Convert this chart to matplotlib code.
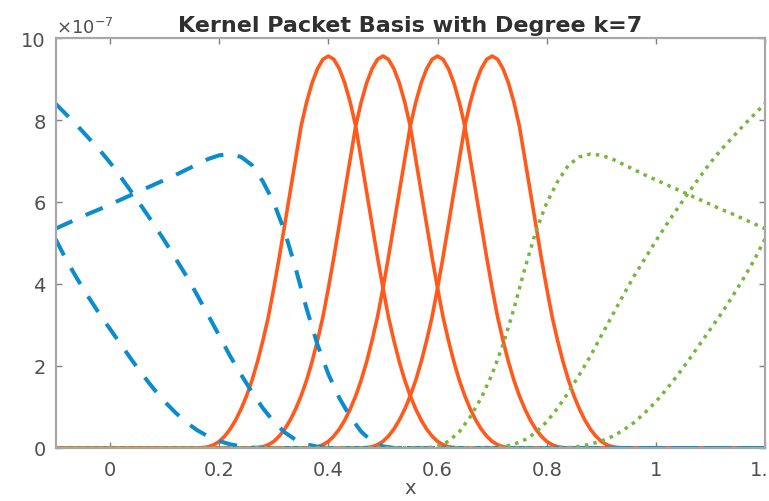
import matplotlib
matplotlib.use("Agg")
import matplotlib.pyplot as plt
import numpy as np

# values are in units of 1e-7

# kernel packet profile (orange), offsets from the centre
kp_offsets = [-0.24, -0.23, -0.22, -0.21, -0.20, -0.19, -0.18, -0.17, -0.16, -0.15,
              -0.14, -0.13, -0.12, -0.11, -0.10, -0.09, -0.08, -0.07, -0.06, -0.05,
              -0.04, -0.03, -0.02, -0.01, 0.00, 0.01, 0.02, 0.03, 0.04, 0.05,
              0.06, 0.07, 0.08, 0.09, 0.10, 0.11, 0.12, 0.13, 0.14, 0.15,
              0.16, 0.17, 0.18, 0.19, 0.20, 0.21, 0.22, 0.23, 0.24]
kp_values = [0.00, 0.01, 0.03, 0.08, 0.16, 0.29, 0.46, 0.68, 0.95, 1.27,
             1.65, 2.10, 2.62, 3.20, 3.90, 4.65, 5.45, 6.25, 7.05, 7.85,
             8.43, 8.90, 9.25, 9.48, 9.56, 9.48, 9.25, 8.90, 8.43, 7.85,
             7.05, 6.25, 5.45, 4.65, 3.90, 3.20, 2.62, 2.10, 1.65, 1.27,
             0.95, 0.68, 0.46, 0.29, 0.16, 0.08, 0.03, 0.01, 0.00]
kp_centers = [0.4, 0.5, 0.6, 0.7]

# left boundary functions (blue, dashed)
left_a_x = [-0.10, -0.08, -0.06, -0.04, -0.02, 0.00, 0.02, 0.04, 0.06, 0.08, 0.10,
            0.12, 0.14, 0.16, 0.18, 0.20, 0.22, 0.24, 0.26, 0.28, 1.20]
left_a_y = [5.10, 4.58, 4.12, 3.69, 3.28, 2.90, 2.52, 2.14, 1.78, 1.44, 1.13,
            0.86, 0.62, 0.43, 0.28, 0.17, 0.09, 0.04, 0.01, 0.00, 0.00]

left_b_x = [-0.10, -0.08, -0.06, -0.04, -0.02, 0.00, 0.02, 0.04, 0.06, 0.08, 0.10,
            0.12, 0.14, 0.16, 0.18, 0.20, 0.22, 0.24, 0.26, 0.28, 0.30, 0.32,
            0.34, 0.36, 0.38, 0.40, 1.20]
left_b_y = [8.40, 8.13, 7.86, 7.57, 7.28, 6.96, 6.60, 6.23, 5.85, 5.46, 5.05,
            4.62, 4.19, 3.72, 3.23, 2.74, 2.24, 1.79, 1.36, 0.97, 0.64, 0.38,
            0.20, 0.09, 0.03, 0.00, 0.00]

left_c_x = [-0.10, -0.08, -0.06, -0.04, -0.02, 0.00, 0.02, 0.04, 0.06, 0.08, 0.10,
            0.12, 0.14, 0.16, 0.18, 0.20, 0.22, 0.24, 0.26, 0.28, 0.30, 0.32,
            0.34, 0.36, 0.38, 0.40, 0.42, 0.44, 0.46, 0.48, 0.50, 0.52, 1.20]
left_c_y = [5.35, 5.47, 5.59, 5.71, 5.82, 5.94, 6.06, 6.18, 6.30, 6.42, 6.54,
            6.66, 6.79, 6.92, 7.05, 7.14, 7.17, 7.10, 6.90, 6.50, 5.98, 5.28,
            4.38, 3.40, 2.52, 1.80, 1.22, 0.76, 0.40, 0.16, 0.04, 0.00, 0.00]

# right boundary functions (green, dotted)
right_a_x = [-0.10, 0.82, 0.84, 0.86, 0.88, 0.90, 0.92, 0.94, 0.96, 0.98, 1.00,
             1.02, 1.04, 1.06, 1.08, 1.10, 1.12, 1.14, 1.16, 1.18, 1.20]
right_a_y = [0.00, 0.00, 0.01, 0.04, 0.09, 0.17, 0.28, 0.43, 0.62, 0.86, 1.13,
             1.44, 1.78, 2.14, 2.52, 2.90, 3.28, 3.69, 4.12, 4.58, 5.10]

right_b_x = [-0.10, 0.70, 0.72, 0.74, 0.76, 0.78, 0.80, 0.82, 0.84, 0.86, 0.88,
             0.90, 0.92, 0.94, 0.96, 0.98, 1.00, 1.02, 1.04, 1.06, 1.08,
             1.10, 1.12, 1.14, 1.16, 1.18, 1.20]
right_b_y = [0.00, 0.00, 0.03, 0.09, 0.20, 0.38, 0.64, 0.97, 1.36, 1.79, 2.24,
             2.74, 3.23, 3.72, 4.19, 4.62, 5.05, 5.46, 5.85, 6.23, 6.60,
             6.96, 7.28, 7.57, 7.86, 8.13, 8.40]

right_c_x = [-0.10, 0.58, 0.60, 0.62, 0.64, 0.66, 0.68, 0.70, 0.72, 0.74, 0.76,
             0.78, 0.80, 0.82, 0.84, 0.86, 0.88, 0.90, 0.92, 0.94, 0.96, 0.98,
             1.00, 1.02, 1.04, 1.06, 1.08, 1.10, 1.12, 1.14, 1.16, 1.18, 1.20]
right_c_y = [0.00, 0.00, 0.04, 0.16, 0.40, 0.76, 1.22, 1.80, 2.52, 3.40, 4.38,
             5.28, 5.98, 6.50, 6.90, 7.10, 7.17, 7.14, 7.05, 6.92, 6.79, 6.66,
             6.54, 6.42, 6.30, 6.18, 6.06, 5.94, 5.82, 5.71, 5.59, 5.47, 5.35]

x_ticks = [0, 0.2, 0.4, 0.6, 0.8, 1.0, 1.2]
x_tick_labels = ["0", "0.2", "0.4", "0.6", "0.8", "1", "1.2"]
y_ticks = [0, 2, 4, 6, 8, 10]

BLUE = "#0A8CCD"
ORANGE = "#FF5A1C"
GREEN = "#76B63C"
AXCOL = "#a8a8a8"
TXTCOL = "#505050"

fig = plt.figure(figsize=(7.69, 5.02), dpi=100)
ax = fig.add_axes([0.0722, 0.1056, 0.9226, 0.8167])

# orange kernel packets, padded with zeros over the whole domain
for c in kp_centers:
    xs = [-0.1] + [c + o for o in kp_offsets] + [1.2]
    ys = [0.0] + kp_values + [0.0]
    ax.plot(xs, ys, color=ORANGE, lw=2.6, solid_capstyle="butt")

for xs, ys in [(left_a_x, left_a_y), (left_b_x, left_b_y), (left_c_x, left_c_y)]:
    ax.plot(xs, ys, color=BLUE, lw=2.9, dashes=(4.6, 3.6), dash_capstyle="butt")

for xs, ys in [(right_a_x, right_a_y), (right_b_x, right_b_y), (right_c_x, right_c_y)]:
    ax.plot(xs, ys, color=GREEN, lw=2.5, dashes=(1.0, 1.5), dash_capstyle="butt")

ax.set_xlim(-0.1, 1.2)
ax.set_ylim(0, 10)
ax.set_xticks(x_ticks)
ax.set_xticklabels(x_tick_labels)
ax.set_yticks(y_ticks)

for s in ax.spines.values():
    s.set_color(AXCOL)
    s.set_linewidth(1.6)

ax.tick_params(direction="in", length=4, width=1, color="#808080",
               labelcolor=TXTCOL, labelsize=14, top=True, right=True)
ax.tick_params(axis="x", pad=9)
ax.tick_params(axis="y", pad=7)

ax.text(0.0, 1.003, r"$\times10^{-7}$", transform=ax.transAxes,
        ha="left", va="bottom", fontsize=13, color=TXTCOL)
ax.set_title("Kernel Packet Basis with Degree k=7", fontsize=16,
             fontweight="bold", color="#303030", pad=5)
ax.set_xlabel("x", fontsize=14, color=TXTCOL, labelpad=-1)

fig.savefig("out.png", dpi=100)
